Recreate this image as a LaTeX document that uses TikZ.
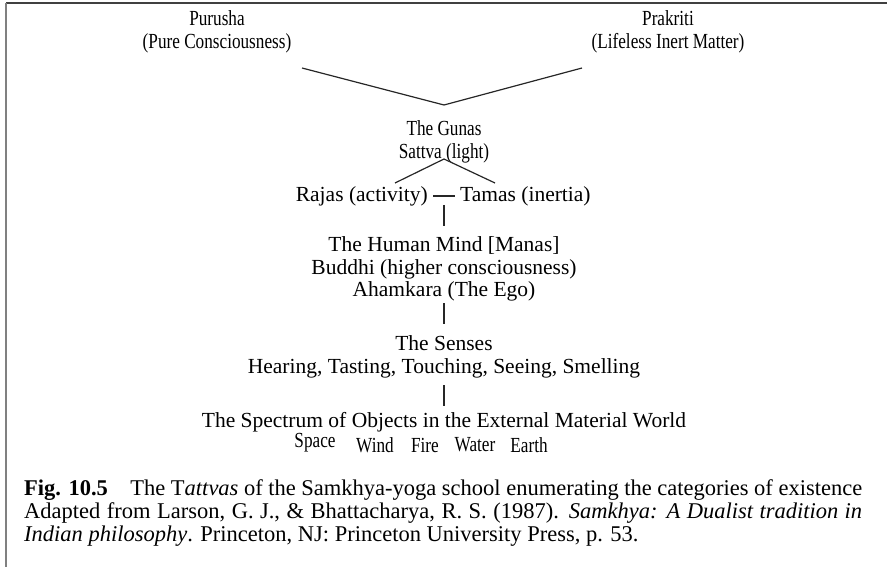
\documentclass[tikz,border=0pt]{standalone}
\usepackage{fontspec}
\setmainfont{Liberation Serif}
\newfontfamily\narrowfont[FakeStretch=0.8]{Liberation Serif}
\begin{document}
\begin{tikzpicture}[x=1pt,y=-1pt,
  lbl/.style={font=\fontsize{21.5}{22.5}\selectfont, inner sep=0pt, align=center},
  nlbl/.style={font=\narrowfont\fontsize{21.5}{23.5}\selectfont, inner sep=0pt, align=center},
  conn/.style={line width=1.2pt, black!85},
  capt/.style={font=\fontsize{22.5}{23}\selectfont, inner sep=0pt, align=left, anchor=north west}]
\useasboundingbox (0,0) rectangle (887,567);
% frame
\draw[line width=2pt, black!75] (6,3) -- (887,3);
\draw[line width=2pt, black!50] (6,3) -- (6,567);
% top
\node[nlbl] (purusha) at (217,32) {Purusha\\(Pure Consciousness)};
\node[nlbl] (prakriti) at (668,32) {Prakriti\\(Lifeless Inert Matter)};
\coordinate (pl) at (302,68);
\coordinate (pr) at (582,68);
\coordinate (apex) at (444,105);
\draw[conn] (pl) -- (apex) -- (pr);
\node[nlbl] (gunas) at (444,142) {The Gunas\\Sattva (light)};
\coordinate (sapex) at (444,159);
\coordinate (sl) at (395,183);
\coordinate (sr) at (495,183);
\draw[conn] (sl) -- (sapex) -- (sr);
\node[lbl, anchor=east] (rajas) at (428,196) {Rajas (activity)};
\node[lbl, anchor=west] (tamas) at (460,196) {Tamas (inertia)};
\draw[conn] ([xshift=5pt]rajas.east) -- ([xshift=-5pt]tamas.west);
\node[lbl] (mind) at (444,269) {The Human Mind [Manas]\\Buddhi (higher consciousness)\\Ahamkara (The Ego)};
\coordinate (m1) at (444,205);
\coordinate (m2) at (444,226);
\draw[conn] (m1) -- (m2);
\coordinate (s1) at (444,303);
\coordinate (s2) at (444,324);
\draw[conn] (s1) -- (s2);
\node[lbl] (senses) at (444,357) {The Senses\\Hearing, Tasting, Touching, Seeing, Smelling};
\coordinate (o1) at (444,385);
\coordinate (o2) at (444,406);
\draw[conn] (o1) -- (o2);
\node[lbl] (spectrum) at (444,422) {The Spectrum of Objects in the External Material World};
\node[nlbl] (space) at (315,443) {Space};
\node[nlbl] (wind) at (375,445) {Wind};
\node[nlbl] (fire) at (425,445) {Fire};
\node[nlbl] (water) at (475,445) {Water};
\node[nlbl] (earth) at (529,445) {Earth};
% caption
\node[capt] (caption) at (24,479) {\makebox[838pt][s]{\mbox{\textbf{Fig. 10.5}}\quad The T\textit{attvas} of the Samkhya-yoga school enumerating the categories of existence}\\
\makebox[838pt][s]{Adapted from Larson, G. J., \& Bhattacharya, R. S. (1987). \textit{Samkhya: A Dualist tradition in}}\\
\textit{Indian philosophy}. Princeton, NJ: Princeton University Press, p. 53.};
\end{tikzpicture}
\end{document}
